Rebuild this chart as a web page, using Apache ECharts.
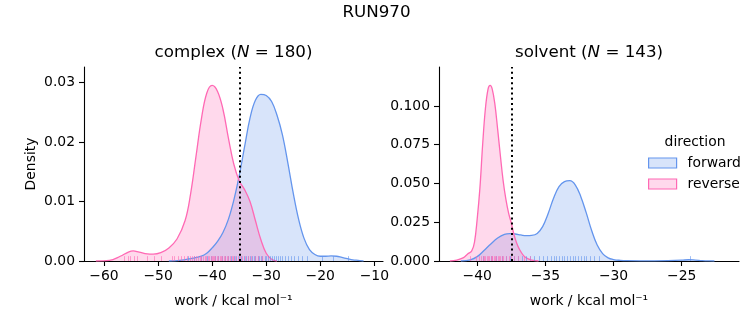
<!DOCTYPE html>
<html><head><meta charset="utf-8">
<script src="https://cdn.jsdelivr.net/npm/echarts@6/dist/echarts.min.js"></script>
<style>html,body{margin:0;padding:0;background:#fff}#c{width:753px;height:325px}</style>
</head><body><div id="c"></div>
<script>
// ---- data ----
const complexFwdX = [-48,-46,-44,-42,-41,-40,-39,-38,-37,-36,-35,-34,-33,-32,-31,-30,-29,-28,-27,-26,-25,-24,-23,-22,-21,-20,-19,-18,-17,-16,-15,-14,-13,-12];
const complexFwdY = [0,0.0001,0.0004,0.0008,0.0013,0.0022,0.0033,0.0048,0.0070,0.0102,0.0143,0.0192,0.0240,0.0270,0.0280,0.0278,0.0268,0.0245,0.0212,0.0165,0.0114,0.0070,0.0038,0.0019,0.0011,0.0008,0.0008,0.00085,0.0008,0.0006,0.0004,0.0002,0.0001,0];
const complexRevX = [-61.5,-59,-57,-55.5,-54.6,-53.5,-52,-50.9,-49.5,-48,-46.5,-45,-44,-43,-42,-41,-40,-39,-38,-37,-36,-35,-34,-33,-32,-31,-30,-29,-28];
const complexRevY = [0,0.0001,0.0008,0.0015,0.0017,0.0015,0.0012,0.00115,0.0014,0.0022,0.0037,0.0068,0.0112,0.0175,0.0238,0.0282,0.0295,0.0285,0.0255,0.0207,0.0163,0.0135,0.0120,0.0100,0.0068,0.0036,0.0013,0.0003,0];
const solventFwdX = [-41.2,-40.5,-40,-39.5,-39,-38.5,-38,-37.6,-37.2,-36.8,-36.4,-36,-35.6,-35.2,-34.8,-34.4,-34,-33.6,-33.2,-32.8,-32.4,-32,-31.6,-31.2,-30.8,-30.4,-30,-29.5,-29,-28,-27,-26,-25,-24.5,-24,-23.5,-23,-22.6];
const solventFwdY = [0,0.0008,0.0028,0.0068,0.011,0.0148,0.0172,0.0177,0.0174,0.0168,0.0163,0.0165,0.0178,0.0222,0.0305,0.0405,0.048,0.0512,0.0518,0.049,0.0415,0.031,0.0195,0.0103,0.0048,0.002,0.0009,0.0004,0.0002,0.0001,0.0001,0.0002,0.0005,0.0008,0.0006,0.0003,0.0001,0];
const solventRevX = [-42,-41.5,-41,-40.7,-40.4,-40.2,-40,-39.8,-39.6,-39.4,-39.2,-39.05,-38.9,-38.7,-38.5,-38.3,-38.1,-37.9,-37.7,-37.5,-37.3,-37.1,-36.9,-36.6,-36.3,-36,-35.5];
const solventRevY = [0,0.0006,0.0022,0.0045,0.0065,0.012,0.027,0.047,0.075,0.098,0.111,0.1133,0.111,0.101,0.085,0.068,0.052,0.040,0.031,0.0245,0.017,0.0115,0.0075,0.0035,0.0015,0.0006,0];
const complexRugFwd = [-44.5,-43.4,-42.1,-41.0,-40.2,-39.5,-38.9,-38.2,-37.6,-37.0,-36.5,-36.0,-35.5,-35.0,-34.6,-34.2,-33.8,-33.4,-33.0,-32.7,-32.3,-32.0,-31.6,-31.3,-31.0,-30.7,-30.3,-30.0,-29.7,-29.3,-29.0,-28.6,-28.2,-27.8,-27.4,-27.0,-26.5,-26.0,-25.4,-24.8,-24.1,-23.4,-22.5,-19.7,-17.6,-14.8];
const complexRugRev = [-56.3,-55.6,-55.1,-54.5,-53.9,-52.0,-50.7,-49.5,-47.5,-47.0,-46.3,-45.8,-45.2,-44.6,-44.1,-43.7,-43.3,-42.9,-42.6,-42.3,-42.0,-41.7,-41.4,-41.1,-40.8,-40.6,-40.3,-40.1,-39.9,-39.6,-39.4,-39.1,-38.9,-38.6,-38.4,-38.1,-37.8,-37.6,-37.3,-37.0,-36.7,-36.4,-36.1,-35.7,-35.3,-34.9,-34.4,-33.9,-33.4,-32.8,-32.1,-31.5,-30.8];
const solventRugFwd = [-39.6,-39.0,-38.6,-38.2,-37.9,-37.6,-37.3,-37.0,-36.7,-36.4,-36.1,-35.8,-35.5,-35.2,-34.9,-34.6,-34.4,-34.2,-34.0,-33.8,-33.6,-33.4,-33.2,-33.0,-32.8,-32.6,-32.4,-32.2,-32.0,-31.7,-31.4,-31.1,-24.4];
const solventRugRev = [-40.5,-40.1,-39.9,-39.7,-39.6,-39.5,-39.4,-39.3,-39.2,-39.1,-39.0,-38.95,-38.9,-38.8,-38.7,-38.6,-38.5,-38.4,-38.3,-38.2,-38.1,-37.9,-37.7,-37.5,-37.3,-37.0,-36.6,-36.1];
const complexLine = -34.84;
const solventLine = -37.43;
const complexXTicks = [-60,-50,-40,-30,-20,-10];
const complexYTicks = [0,0.01,0.02,0.03];
const solventXTicks = [-40,-35,-30,-25];
const solventYTicks = [0,0.025,0.05,0.075,0.1];
const directions = ['forward','reverse'];
// ---- style ----
const FONT = 'DejaVu Sans';
const C = {forward:'#6495ED', reverse:'#FF69B4'};
const FILL = {forward:'rgba(100,149,237,0.25)', reverse:'rgba(255,105,180,0.25)'};
const zip = (xs, ys) => xs.map((x,i)=>[x, ys[i]]);
const minus = v => String(v).replace('-', '\u2212');

const YMAX = [0.0326, 0.1251];
function kde(name, xi, xs, ys, lineVal){
  const s = {type:'line', name, xAxisIndex:xi, yAxisIndex:xi, data:zip(xs,ys), smooth:0.4, showSymbol:false, symbol:'none',
    lineStyle:{color:C[name], width:1.3}, itemStyle:{color:C[name]}, areaStyle:{color:FILL[name], opacity:1}, z:2, silent:true};
  if (lineVal !== undefined) s.markLine = {silent:true, symbol:['none','none'], label:{show:false},
    lineStyle:{color:'#000', type:[2,3.2], width:2}, data:[{xAxis:lineVal}], z:5};
  return s;
}
function rug(name, xi, vals){
  return {type:'custom', name, xAxisIndex:xi, yAxisIndex:xi, data:vals.map(v=>[v,0]), z:4, silent:true,
    renderItem:(p, api)=>{
      const a = api.coord([api.value(0), 0]);
      const b = api.coord([api.value(0), YMAX[xi]]);
      const h = (a[1]-b[1])*0.025;
      const x = Math.round(a[0]) + 0.5;
      return {type:'line', shape:{x1:x, y1:a[1], x2:x, y2:a[1]-h}, style:{stroke:C[name], lineWidth:1, opacity:0.6}};
    }};
}
function xAxis(gi, min, max, ticks){
  return {type:'value', gridIndex:gi, min, max, name:'work / kcal mol\u207B\u00B9', nameLocation:'middle', nameGap:33,
    nameTextStyle:{fontFamily:FONT, fontSize:13.9, color:'#000'},
    axisLine:{lineStyle:{color:'#000', width:1.1}}, splitLine:{show:false},
    axisTick:{length:5, lineStyle:{color:'#000', width:1.1}, customValues:ticks},
    axisLabel:{customValues:ticks, margin:8, fontFamily:FONT, fontSize:13.9, color:'#000', formatter:v=>minus(v)}};
}
function yAxis(gi, max, ticks, dec, name){
  return {type:'value', gridIndex:gi, min:0, max, name, nameLocation:'middle', nameGap:46,
    nameTextStyle:{fontFamily:FONT, fontSize:13.9, color:'#000'},
    axisLine:{show:true, lineStyle:{color:'#000', width:1.1}}, splitLine:{show:false},
    axisTick:{show:true, length:5, lineStyle:{color:'#000', width:1.1}, customValues:ticks},
    axisLabel:{customValues:ticks, margin:9, fontFamily:FONT, fontSize:13.9, color:'#000', formatter:v=>v.toFixed(dec)}};
}
const titleRich = {r:{fontFamily:FONT, fontSize:16.7, fontWeight:'normal', color:'#000'}, i:{fontFamily:FONT, fontSize:16.7, fontWeight:'normal', fontStyle:'italic', color:'#000'}};
const option = {
  animation:false,
  backgroundColor:'#fff',
  title:[
    {text:'RUN970', left:376.5, top:4, padding:0, textAlign:'center', textStyle:{fontFamily:FONT, fontSize:16.7, fontWeight:'normal', color:'#000'}},
    {text:'{r|complex (}{i|N}{r| = 180)}', left:233.5, top:44, padding:0, textAlign:'center', textStyle:{fontWeight:'normal', rich:titleRich}},
    {text:'{r|solvent (}{i|N}{r| = 143)}', left:589, top:44, padding:0, textAlign:'center', textStyle:{fontWeight:'normal', rich:titleRich}},
    {text:'direction', left:695, top:135, padding:0, textAlign:'center', textStyle:{fontFamily:FONT, fontSize:13.9, fontWeight:'normal', color:'#000'}}
  ],
  legend:{orient:'vertical', left:648, top:156, padding:0, itemWidth:28, itemHeight:10, itemGap:7, selectedMode:false,
    textStyle:{fontFamily:FONT, fontSize:13.9, color:'#000', padding:[0,0,0,6]},
    data:directions.map(d=>({name:d, icon:'rect', itemStyle:{color:FILL[d], borderColor:C[d], borderWidth:1.2}}))},
  grid:[{left:84, top:67, width:299, height:194}, {left:439, top:67, width:300, height:194}],
  xAxis:[xAxis(0,-63.7,-8.4,complexXTicks), xAxis(1,-42.8,-20.8,solventXTicks)],
  yAxis:[yAxis(0,YMAX[0],complexYTicks,2,'Density'), yAxis(1,YMAX[1],solventYTicks,3,'')],
  series:[
    kde('forward',0,complexFwdX,complexFwdY),
    kde('reverse',0,complexRevX,complexRevY,complexLine),
    rug('forward',0,complexRugFwd), rug('reverse',0,complexRugRev),
    kde('forward',1,solventFwdX,solventFwdY),
    kde('reverse',1,solventRevX,solventRevY,solventLine),
    rug('forward',1,solventRugFwd), rug('reverse',1,solventRugRev)
  ]
};
echarts.init(document.getElementById('c'), null, {renderer:'canvas'}).setOption(option);
</script></body></html>
